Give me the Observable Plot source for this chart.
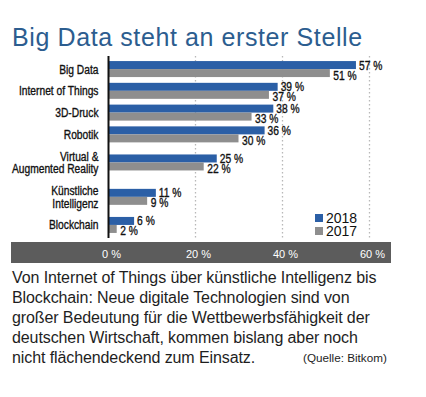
<!DOCTYPE html>
<html>
<head>
<meta charset="utf-8">
<script src="https://cdn.jsdelivr.net/npm/d3@7"></script>
<script src="https://cdn.jsdelivr.net/npm/@observablehq/plot@0.6"></script>
<style>
  body { margin: 0; width: 426px; height: 397px; position: relative; background: #fff; overflow: hidden;
         font-family: "Liberation Sans", Arial, Helvetica, sans-serif; }
  #title { position: absolute; left: 12px; top: 22px; font-size: 25px; line-height: 30px; letter-spacing: 0.6px;
           color: #2c5d8f; white-space: nowrap; }
  #chart { position: absolute; left: 0; top: 50px; }
  #legend { position: absolute; left: 315px; top: 212px; width: 72px; }
  #legend svg { margin-right: 3px !important; }
  #legend div { overflow: visible !important; }
  #caption { position: absolute; left: 12px; top: 268px; font-size: 16px; line-height: 20px; letter-spacing: -0.1px;
             color: #1e1e1e; white-space: nowrap; }
  #source { position: absolute; left: 303px; top: 351px; font-size: 11.7px; color: #1e1e1e; white-space: nowrap; }
</style>
</head>
<body>
<div id="title">Big Data steht an erster Stelle</div>
<div id="chart"></div>
<div id="legend"></div>
<div id="caption">Von Internet of Things über künstliche Intelligenz bis<br>Blockchain: Neue digitale Technologien sind von<br>großer Bedeutung für die Wettbewerbsfähigkeit der<br>deutschen Wirtschaft, kommen bislang aber noch<br>nicht flächendeckend zum Einsatz.</div>
<div id="source">(Quelle: Bitkom)</div>
<script>
// ---- data ----
const categories = ["Big Data", "Internet of Things", "3D-Druck", "Robotik", "Virtual &\nAugmented Reality", "Künstliche\nIntelligenz", "Blockchain"];
const values2018 = [57, 39, 38, 36, 25, 11, 6];
const values2017 = [51, 37, 33, 30, 22, 9, 2];
const years = ["2018", "2017"];
const xTicks = [0, 20, 40, 60];
const gridTicks = [20, 40, 60];

// ---- layout ----
const colors = ["#2b5fa6", "#8e8e8e"];
const W = 426, H = 215, mTop = 6, mBottom = 27, mLeft = 108, mRight = 57;
const sans = "'Liberation Sans', Arial, sans-serif";
const condense = 0.82; // horizontal squeeze to imitate a narrow typeface
const extraLineWeight = 0.58, pad = 0.6, barPx = 8;

// row positions: categories with two-line labels get more room
let acc = 0;
const rows = categories.map((c, i) => {
  const w = 1 + extraLineWeight * (c.split("\n").length - 1);
  if (i > 0) {
    const prev = categories[i - 1];
    const wp = 1 + extraLineWeight * (prev.split("\n").length - 1);
    acc += (w + wp) / 2;
  }
  return {label: c, pos: acc, v2018: values2018[i], v2017: values2017[i]};
});
const maxPos = acc;
const pxPerUnit = (H - mTop - mBottom) / (maxPos + 2 * pad);
const hb = barPx / pxPerUnit;

const labelStyle = {fontFamily: sans, fontSize: 12.5, fill: "#111", stroke: "#111", strokeWidth: 0.35, className: "narrow"};

const svg = Plot.plot({
  width: W, height: H,
  marginTop: mTop, marginBottom: mBottom, marginLeft: mLeft, marginRight: mRight,
  style: {background: "transparent", overflow: "visible"},
  x: {domain: [0, 60]},
  y: {domain: [-pad, maxPos + pad], reverse: true, axis: null},
  marks: [
    Plot.ruleX(gridTicks, {stroke: "#b8b8b8", strokeDasharray: "1.5 2.5", strokeWidth: 1.3}),
    Plot.rectX(rows, {x1: 0, x2: "v2018", y1: d => d.pos - hb, y2: d => d.pos, fill: colors[0]}),
    Plot.rectX(rows, {x1: 0, x2: "v2017", y1: d => d.pos, y2: d => d.pos + hb, fill: colors[1]}),
    Plot.ruleX([0], {stroke: "#111", strokeWidth: 2}),
    Plot.text(rows, {frameAnchor: "left", y: "pos", text: "label", textAnchor: "end", dx: -10,
      lineHeight: 1, ...labelStyle}),
    Plot.text(rows, {x: "v2018", y: "pos", text: d => d.v2018 + " %", textAnchor: "start", dx: 2.5, dy: -4,
      ...labelStyle}),
    Plot.text(rows, {x: "v2017", y: "pos", text: d => d.v2017 + " %", textAnchor: "start", dx: 3, dy: 6,
      ...labelStyle}),
    Plot.axisX(xTicks, {tickSize: 0, tickPadding: 12, tickFormat: d => d + " %", fill: "#fff",
      fontSize: 11, dx: 3, fontFamily: sans})
  ]
});

// squeeze the chart's label texts horizontally (around each text's anchor point)
d3.select(svg).selectAll(".narrow text").each(function() {
  const t = this.getAttribute("transform") || "";
  this.setAttribute("transform", t + ` scale(${condense},1)`);
});

// dark band behind the x-axis labels
d3.select(svg).insert("rect", ":first-child")
  .attr("x", 11).attr("y", 192).attr("width", 380).attr("height", 21).attr("fill", "#5c5c5c");

document.getElementById("chart").appendChild(svg);

const legend = Plot.legend({
  color: {type: "ordinal", domain: years, range: colors},
  legend: "swatches", columns: 1, swatchSize: 8,
  style: {fontSize: "14px", lineHeight: "12px", fontFamily: sans, color: "#111", background: "transparent"}
});
document.getElementById("legend").appendChild(legend);
</script>
</body>
</html>
